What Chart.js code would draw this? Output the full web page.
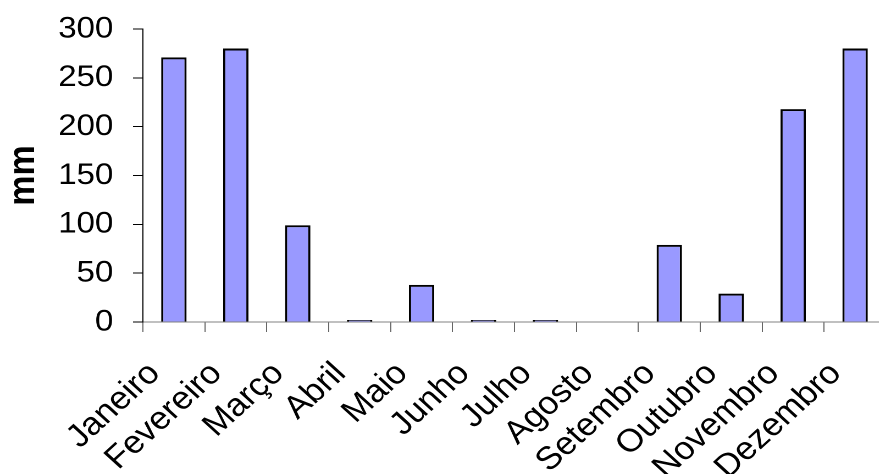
<!DOCTYPE html>
<html>
<head>
<meta charset="utf-8">
<script src="https://cdn.jsdelivr.net/npm/chart.js@4"></script>
<style>
html,body{margin:0;padding:0;background:#fff;overflow:hidden;width:879px;height:474px;}
#wrap{position:absolute;left:0;top:0;width:806px;height:474px;transform:scaleX(1.0993);transform-origin:0 0;}
</style>
</head>
<body>
<div id="wrap"><canvas id="c" width="806" height="474"></canvas></div>
<script>
const categories = ["Janeiro","Fevereiro","Março","Abril","Maio","Junho","Julho","Agosto","Setembro","Outubro","Novembro","Dezembro"];
const rainfall = [271, 280, 99, 2, 38, 2, 2, 0, 79, 29, 218, 280];
const yTicks = [0, 50, 100, 150, 200, 250, 300];
const yTitle = "mm";

const FONT = "'Liberation Sans', Arial, sans-serif";

new Chart(document.getElementById('c'), {
  type: 'bar',
  data: {
    labels: categories,
    datasets: [{
      data: rainfall,
      backgroundColor: '#9999FF',
      borderColor: '#000000',
      borderWidth: 2,
      borderSkipped: 'bottom',
      barPercentage: 0.41,
      categoryPercentage: 1.0
    }]
  },
  options: {
    responsive: false,
    animation: false,
    devicePixelRatio: 2,
    layout: { padding: { left: 0, top: 29, right: 0, bottom: 0 } },
    plugins: { legend: { display: false }, tooltip: { enabled: false } },
    scales: {
      x: {
        offset: true,
        grid: { offset: true, drawOnChartArea: false, drawTicks: true, tickLength: 10, color: '#666666', lineWidth: 1 },
        border: { display: true, color: '#808080', width: 1 },
        ticks: {
          color: '#000',
          font: { family: FONT, size: 32 },
          maxRotation: 45, minRotation: 45,
          autoSkip: false,
          padding: 23,
          labelOffset: -17.5
        },
        afterFit: (s) => { s.height = 152; s.paddingLeft = 0; s.paddingRight = 0; }
      },
      y: {
        min: 0, max: 300,
        afterBuildTicks: (s) => { s.ticks = yTicks.map(v => ({ value: v })); },
        grid: { drawOnChartArea: false, drawTicks: true, tickLength: 9, color: '#000', lineWidth: 1 },
        border: { display: true, color: '#000', width: 1 },
        ticks: { color: '#000', font: { family: FONT, size: 30 }, padding: 18 },
        title: { display: true, text: yTitle, color: '#000', font: { family: FONT, size: 34, weight: 'bold' }, padding: { top: 1, bottom: 0 } },
        afterFit: (s) => { s.width = 130; s.paddingTop = 0; s.paddingBottom = 0; }
      }
    }
  }
});
</script>
</body>
</html>
